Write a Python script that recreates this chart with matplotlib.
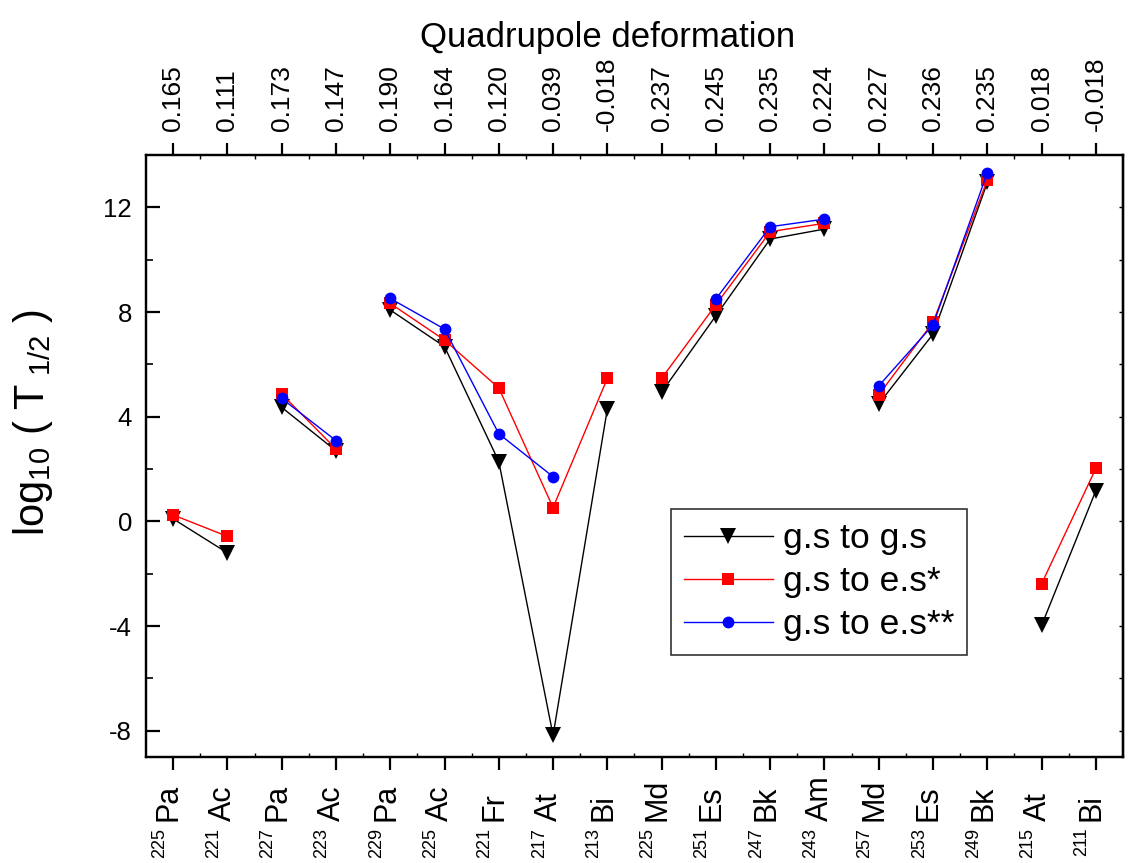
import numpy as np
import matplotlib
matplotlib.use("Agg")
import matplotlib.pyplot as plt

plt.rcParams['font.family'] = ['Liberation Sans', 'DejaVu Sans']
plt.rcParams['mathtext.fontset'] = 'custom'
plt.rcParams['mathtext.rm'] = 'Liberation Sans'
plt.rcParams['mathtext.it'] = 'Liberation Sans:italic'
plt.rcParams['mathtext.bf'] = 'Liberation Sans:bold'
plt.rcParams['axes.unicode_minus'] = False

# nuclides along the x axis
elements = ["Pa", "Ac", "Pa", "Ac", "Pa", "Ac", "Fr", "At", "Bi",
            "Md", "Es", "Bk", "Am", "Md", "Es", "Bk", "At", "Bi"]
masses = ["225", "221", "227", "223", "229", "225", "221", "217", "213",
          "225", "251", "247", "243", "257", "253", "249", "215", "211"]
deform = ["0.165", "0.111", "0.173", "0.147", "0.190", "0.164", "0.120", "0.039", "-0.018",
          "0.237", "0.245", "0.235", "0.224", "0.227", "0.236", "0.235", "0.018", "-0.018"]

nan = np.nan
gs_gs = [0.1, -1.2, 4.36, 2.7, 8.08, 6.68, 2.29, -8.17, 4.3,
         4.94, 7.86, 10.79, 11.17, 4.49, 7.16, 12.95, -3.97, 1.18]
gs_es1 = [0.25, -0.57, 4.87, 2.77, 8.33, 6.93, 5.1, 0.53, 5.47,
          5.47, 8.28, 11.07, 11.39, 4.84, 7.61, 13.04, -2.38, 2.03]
gs_es2 = [nan, nan, 4.7, 3.09, 8.52, 7.35, 3.35, 1.71, nan,
          nan, 8.5, 11.26, 11.55, 5.18, 7.51, 13.32, nan, nan]

# points joined by lines (1-based positions)
groups = [[1, 2], [3, 4], [5, 6, 7, 8, 9], [10, 11, 12, 13], [14, 15, 16], [17, 18]]

x = np.arange(1, len(elements) + 1)

fig = plt.figure(figsize=(11.28, 8.63), dpi=100)
ax = fig.add_axes([0.1294, 0.1228, 0.8662, 0.6976])

series = [
    (gs_gs, "black", "v", 12, "g.s to g.s"),
    (gs_es1, "#ff0000", "s", 8, "g.s to e.s*"),
    (gs_es2, "#0000ff", "o", 8.5, "g.s to e.s**"),
]
for vals, col, mk, ms, lab in series:
    vals = np.array(vals)
    for gi, g in enumerate(groups):
        idx = np.array(g) - 1
        ax.plot(x[idx], vals[idx], color=col, marker=mk, markersize=ms,
                markeredgewidth=0, lw=1.0, label=lab if gi == 0 else None)

ax.set_xlim(0.5, 18.5)
ax.set_ylim(-9, 14)
for s in ax.spines.values():
    s.set_linewidth(1.6)

ax.set_yticks([-8, -4, 0, 4, 8, 12])
ax.set_yticks(np.arange(-8, 14, 2), minor=True)
ax.tick_params(axis='y', which='major', direction='in', length=10, width=1.6,
               labelsize=18.5, pad=10)
ax.tick_params(axis='y', which='minor', direction='in', length=5, width=1.2)

ax.set_xticks(x)
ax.set_xticks(x[:-1] + 0.5, minor=True)
ax.set_xticklabels([])
ax.tick_params(axis='x', which='major', direction='out', length=9, width=1.6)
ax.tick_params(axis='x', which='minor', direction='in', length=3, width=1.0)

# right side small ticks
sec = ax.secondary_yaxis('right')
sec.set_yticks(np.arange(-8, 14, 2))
sec.set_yticklabels([])
sec.tick_params(direction='in', length=3, width=1.0)
sec.spines['right'].set_linewidth(1.6)

# nuclide labels below the axis
for xi, el, m in zip(x, elements, masses):
    ax.annotate(el, xy=(xi, 0), xycoords=('data', 'axes fraction'),
                xytext=(-3, -46), textcoords='offset points',
                rotation=90, ha='center', va='bottom', fontsize=22)
    ax.annotate(m, xy=(xi, 0), xycoords=('data', 'axes fraction'),
                xytext=(-10, -51), textcoords='offset points',
                rotation=90, ha='center', va='top', fontsize=13)

# top axis: quadrupole deformation
top = ax.twiny()
top.set_xlim(ax.get_xlim())
top.set_xticks(x)
top.set_xticks(x[:-1] + 0.5, minor=True)
top.set_xticklabels(deform, rotation=90, fontsize=19)
top.tick_params(axis='x', which='major', direction='out', length=9, width=1.6, pad=8)
top.tick_params(axis='x', which='minor', direction='in', length=3, width=1.0)
top.set_xlabel("Quadrupole deformation", fontsize=25)
top.xaxis.set_label_coords(0.472, 1.18)
for s in top.spines.values():
    s.set_linewidth(1.6)

ax.set_ylabel(r'$\mathregular{log_{10}\ (\ T_{\ 1/2}\ )}$', fontsize=30)
ax.yaxis.set_label_coords(-0.093, 0.556)

leg = ax.legend(loc='upper left', bbox_to_anchor=(0.537, 0.412), fontsize=25.5,
                frameon=True, fancybox=False, edgecolor='black',
                handlelength=2.5, handletextpad=0.28, labelspacing=0.28,
                borderpad=0.38, borderaxespad=0)
leg.get_frame().set_linewidth(1.2)

fig.savefig("out.png", dpi=100)
